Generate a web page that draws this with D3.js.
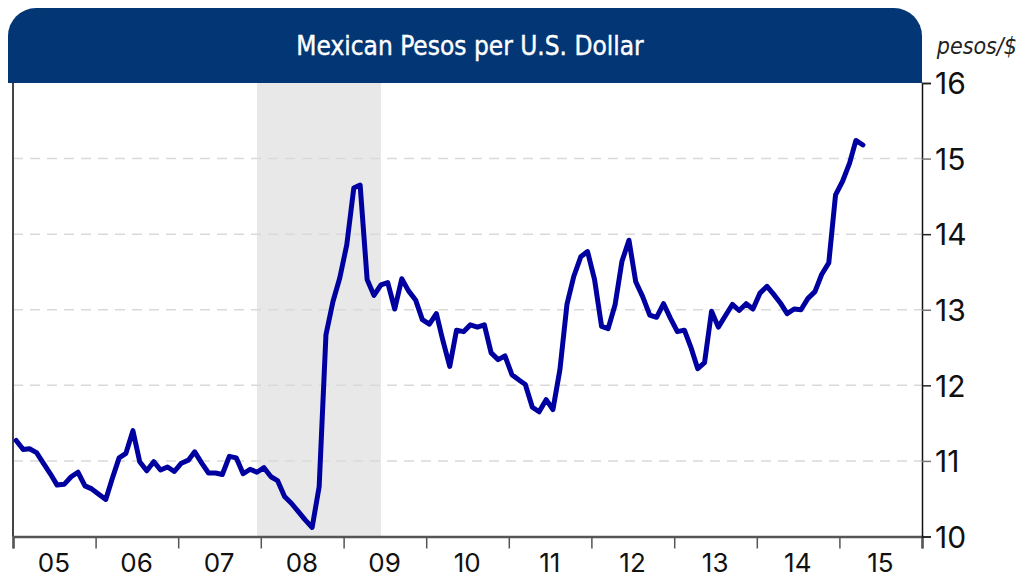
<!DOCTYPE html>
<html>
<head>
<meta charset="utf-8">
<script src="https://cdn.jsdelivr.net/npm/d3@7"></script>
<style>
  body { margin: 0; background: #fff; }
  svg { display: block; }
</style>
</head>
<body>
<svg id="chart" width="1023" height="578"></svg>
<script>
// monthly averages, first value = Jan 2005
const startMonth = "2005-01";
const pesoRates = [
  11.27, 11.15, 11.16, 11.11, 10.97, 10.83, 10.68, 10.69, 10.79, 10.85, 10.67, 10.63,
  10.56, 10.49, 10.76, 11.04, 11.10, 11.40, 10.99, 10.87, 10.99, 10.88, 10.92, 10.86,
  10.97, 11.01, 11.12, 10.97, 10.84, 10.84, 10.82, 11.06, 11.04, 10.83, 10.89, 10.85,
  10.91, 10.79, 10.74, 10.53, 10.44, 10.33, 10.22, 10.12, 10.66, 12.67, 13.11, 13.42,
  13.86, 14.61, 14.65, 13.40, 13.19, 13.33, 13.36, 13.01, 13.41, 13.25, 13.13, 12.87,
  12.81, 12.95, 12.60, 12.25, 12.73, 12.71, 12.80, 12.77, 12.80, 12.43, 12.34, 12.39,
  12.14, 12.07, 12.01, 11.71, 11.65, 11.81, 11.68, 12.21, 13.07, 13.44, 13.70, 13.77,
  13.40, 12.78, 12.75, 13.07, 13.64, 13.92, 13.37, 13.17, 12.93, 12.90, 13.08, 12.89,
  12.71, 12.73, 12.51, 12.22, 12.30, 12.98, 12.77, 12.92, 13.07, 12.99, 13.08, 13.01,
  13.22, 13.31, 13.21, 13.09, 12.95, 13.01, 13.00, 13.15, 13.24, 13.47, 13.62, 14.52,
  14.70, 14.94, 15.24, 15.18
];
const yearLabels = ["05", "06", "07", "08", "09", "10", "11", "12", "13", "14", "15"];
const yTicks = [10, 11, 12, 13, 14, 15, 16];
const recession = ["2007-12-15", "2009-06-15"];
const title = "Mexican Pesos per U.S. Dollar";
const unitLabel = "pesos/$";

const svg = d3.select("#chart");
const plotLeft = 13, plotRight = 922, plotTop = 83, plotBottom = 536.5;

const parseMonth = d3.timeParse("%Y-%m");
const parseDay = d3.timeParse("%Y-%m-%d");
const start = parseMonth(startMonth);

const data = pesoRates.map((v, i) => {
  const d = d3.timeMonth.offset(start, i);
  return { date: new Date(d.getFullYear(), d.getMonth(), 15), value: v };
});

const x = d3.scaleTime()
  .domain([new Date(2005, 0, 1), new Date(2016, 0, 1)])
  .range([plotLeft, plotRight]);
const y = d3.scaleLinear().domain([10, 16]).range([plotBottom, plotTop]);

// recession band
svg.append("rect")
  .attr("x", x(parseDay(recession[0])))
  .attr("y", plotTop)
  .attr("width", x(parseDay(recession[1])) - x(parseDay(recession[0])))
  .attr("height", plotBottom - plotTop)
  .attr("fill", "#e8e8e8");

// dashed gridlines
svg.append("g")
  .selectAll("line")
  .data(yTicks.filter(t => t > 10 && t < 16))
  .join("line")
  .attr("x1", plotLeft).attr("x2", plotRight)
  .attr("y1", d => y(d)).attr("y2", d => y(d))
  .attr("stroke", "#d9d9d9")
  .attr("stroke-width", 1.5)
  .attr("stroke-dasharray", "10,7");

// header banner
const hx0 = 8, hx1 = plotRight, hy0 = 8, hy1 = plotTop, r = 28;
const hp = d3.path();
hp.moveTo(hx0, hy1);
hp.lineTo(hx0, hy0 + r);
hp.arcTo(hx0, hy0, hx0 + r, hy0, r);
hp.lineTo(hx1 - r, hy0);
hp.arcTo(hx1, hy0, hx1, hy0 + r, r);
hp.lineTo(hx1, hy1);
hp.closePath();
svg.append("path").attr("d", hp.toString()).attr("fill", "#033674");

svg.append("text")
  .attr("x", (hx0 + hx1) / 2 + 5)
  .attr("y", 55)
  .attr("text-anchor", "middle")
  .attr("fill", "#fff")
  .attr("font-family", "'Liberation Sans Narrow', 'DejaVu Sans Condensed', sans-serif")
  .attr("font-size", 26)
  .attr("stroke", "#fff")
  .attr("stroke-width", 0.4)
  .text(title);

svg.append("text")
  .attr("x", 1017)
  .attr("y", 54)
  .attr("text-anchor", "end")
  .attr("fill", "#222")
  .attr("font-family", "'Liberation Sans Narrow', 'DejaVu Sans Condensed', sans-serif")
  .attr("font-style", "italic")
  .attr("font-size", 23)
  .text(unitLabel);

// left frame line
svg.append("line")
  .attr("x1", plotLeft).attr("x2", plotLeft)
  .attr("y1", plotTop).attr("y2", plotBottom)
  .attr("stroke", "#444").attr("stroke-width", 2);

// x axis
const xAxis = d3.axisBottom(x)
  .ticks(d3.timeYear.every(1))
  .tickSize(12)
  .tickFormat("");
const gx = svg.append("g")
  .attr("transform", `translate(0,${plotBottom})`)
  .call(xAxis);
gx.select(".domain").attr("stroke", "#555").attr("stroke-width", 2.5);
gx.selectAll(".tick line").attr("stroke", "#555").attr("stroke-width", 1.5);

svg.append("g")
  .selectAll("text")
  .data(yearLabels)
  .join("text")
  .attr("x", (d, i) => x(new Date(2005 + i, 6, 1)))
  .attr("y", 572)
  .attr("text-anchor", "middle")
  .attr("font-family", "Inter, 'DejaVu Sans', sans-serif")
  .attr("font-size", 26)
  .attr("fill", "#111")
  .text(d => d);

// right axis
const yAxis = d3.axisRight(y)
  .tickValues(yTicks)
  .tickSize(9)
  .tickPadding(4)
  .tickFormat(d3.format("d"));
const gy = svg.append("g")
  .attr("transform", `translate(${plotRight},0)`)
  .call(yAxis);
gy.select(".domain").attr("stroke", "#111").attr("stroke-width", 1.5);
gy.selectAll(".tick line").attr("stroke", (d, i) => i % 2 ? "#777" : "#222").attr("stroke-width", 1.5);
gy.selectAll(".tick text")
  .attr("font-family", "Inter, 'DejaVu Sans', sans-serif")
  .attr("font-size", 30)
  .attr("fill", "#111")
  .attr("dy", "0.36em");

// series
const line = d3.line()
  .x(d => x(d.date))
  .y(d => y(d.value));

svg.append("path")
  .datum(data)
  .attr("fill", "none")
  .attr("stroke", "#0000a0")
  .attr("stroke-width", 5)
  .attr("stroke-linejoin", "round")
  .attr("stroke-linecap", "round")
  .attr("d", line);
</script>
</body>
</html>
